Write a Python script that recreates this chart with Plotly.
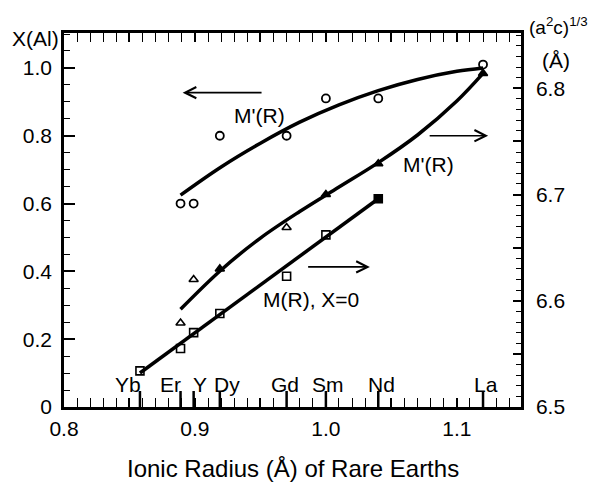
import plotly.graph_objects as go

# ---------------- data ----------------
elements = ["Yb", "Er", "Y", "Dy", "Gd", "Sm", "Nd", "La"]
radius = [0.858, 0.889, 0.899, 0.919, 0.970, 1.000, 1.040, 1.120]

# M'(R): X(Al) (left axis), open circles, elements Er..La
circ_elem = ["Er", "Y", "Dy", "Gd", "Sm", "Nd", "La"]
circ_xal = [0.60, 0.60, 0.80, 0.80, 0.91, 0.91, 1.01]
circ_fit_x = [0.889, 0.920, 0.950, 0.980, 1.010, 1.040, 1.070, 1.100, 1.120]
circ_fit_y = [0.625, 0.708, 0.778, 0.840, 0.891, 0.933, 0.966, 0.990, 1.000]

# M'(R): (a^2 c)^(1/3) (right axis), triangles
tri_elem = ["Er", "Y", "Dy", "Gd", "Sm", "Nd", "La"]
tri_val = [6.579, 6.620, 6.630, 6.669, 6.700, 6.729, 6.814]
tri_filled = [False, False, True, False, True, True, True]
tri_fit_x = [0.889, 0.920, 0.950, 0.980, 1.010, 1.040, 1.070, 1.100, 1.120]
tri_fit_y = [6.592, 6.629, 6.659, 6.684, 6.707, 6.730, 6.756, 6.788, 6.814]

# M(R), X=0: (a^2 c)^(1/3) (right axis), squares
sq_elem = ["Yb", "Er", "Y", "Dy", "Gd", "Sm", "Nd"]
sq_val = [6.534, 6.555, 6.570, 6.588, 6.623, 6.662, 6.696]
sq_filled = [False, False, False, False, False, False, True]
sq_fit_x = [0.858, 1.040]
sq_fit_y = [6.532, 6.696]

x_ticks = [0.80, 0.85, 0.90, 0.95, 1.00, 1.05, 1.10]
x_ticktext = ["0.8", "", "0.9", "", "1.0", "", "1.1"]
yl_ticks = [0, 0.2, 0.4, 0.6, 0.8, 1.0]
yl_ticktext = ["0", "0.2", "0.4", "0.6", "0.8", "1.0"]
yr_ticks = [6.50, 6.55, 6.60, 6.65, 6.70, 6.75, 6.80]
yr_ticktext = ["6.5", "", "6.6", "", "6.7", "", "6.8"]

# ---------------- figure ----------------
FONT = "Liberation Sans, Arial, Helvetica, sans-serif"
rad = dict(zip(elements, radius))

fig = go.Figure()

# fitted curves
fig.add_trace(go.Scatter(x=circ_fit_x, y=circ_fit_y, mode="lines",
                         line=dict(color="black", width=3.5, shape="spline"),
                         yaxis="y", showlegend=False, hoverinfo="skip"))
fig.add_trace(go.Scatter(x=tri_fit_x, y=tri_fit_y, mode="lines",
                         line=dict(color="black", width=3.5, shape="spline"),
                         yaxis="y2", showlegend=False, hoverinfo="skip"))
fig.add_trace(go.Scatter(x=sq_fit_x, y=sq_fit_y, mode="lines",
                         line=dict(color="black", width=3.5),
                         yaxis="y2", showlegend=False, hoverinfo="skip"))

# markers
fig.add_trace(go.Scatter(x=[rad[e] for e in circ_elem], y=circ_xal, mode="markers",
                         marker=dict(symbol="circle-open", size=8, color="black",
                                     line=dict(width=1.8, color="black")),
                         yaxis="y", showlegend=False))
fig.add_trace(go.Scatter(x=[rad[e] for e in tri_elem], y=tri_val, mode="markers",
                         marker=dict(symbol=["triangle-up" if f else "triangle-up-open" for f in tri_filled],
                                     size=8, color="black",
                                     line=dict(width=1.6, color="black")),
                         yaxis="y2", showlegend=False))
fig.add_trace(go.Scatter(x=[rad[e] for e in sq_elem], y=sq_val, mode="markers",
                         marker=dict(symbol=["square" if f else "square-open" for f in sq_filled],
                                     size=8, color="black",
                                     line=dict(width=1.6, color="black")),
                         yaxis="y2", showlegend=False))

# element tall ticks and labels
label_shift = [-12, -10, 6, 7, -2, 2, 3, 3]
shapes = []
annotations = []
for e, r, s in zip(elements, radius, label_shift):
    shapes.append(dict(type="line", xref="x", yref="paper", ysizemode="pixel",
                       yanchor=0, x0=r, x1=r, y0=0, y1=16,
                       line=dict(color="black", width=2.5)))
    annotations.append(dict(x=r, y=0, xref="x", yref="paper", text=e,
                            showarrow=False, xanchor="center", yanchor="middle",
                            xshift=s, yshift=23, font=dict(size=21, family=FONT, color="black")))

txt = dict(size=21, family=FONT, color="black")
# arrows
for (hx, hy, tx, ty) in [(0.8906, 0.927, 0.952, 0.927),
                         (1.1239, 0.800, 1.0781, 0.800),
                         (1.0336, 0.413, 0.9853, 0.413)]:
    annotations.append(dict(x=hx, y=hy, ax=tx, ay=ty, xref="x", yref="y",
                            axref="x", ayref="y", text="", showarrow=True,
                            arrowhead=5, arrowsize=1.3, arrowwidth=1.7,
                            arrowcolor="black"))
# curve labels
annotations.append(dict(x=0.9496, y=0.861, xref="x", yref="y", text="M'(R)",
                        showarrow=False, font=txt))
annotations.append(dict(x=1.0786, y=0.714, xref="x", yref="y", text="M'(R)",
                        showarrow=False, font=txt))
annotations.append(dict(x=0.9885, y=0.316, xref="x", yref="y", text="M(R), X=0",
                        showarrow=False, font=txt))
# axis titles
annotations.append(dict(x=0, y=1, xref="paper", yref="paper", text="X(Al)",
                        showarrow=False, xanchor="center", yanchor="middle",
                        xshift=-29, yshift=-5, font=txt))
annotations.append(dict(x=1, y=1, xref="paper", yref="paper",
                        text="(a<sup>2</sup>c)<sup>1/3</sup>",
                        showarrow=False, xanchor="left", yanchor="middle",
                        xshift=6, yshift=7, font=dict(size=19, family=FONT, color="black")))
annotations.append(dict(x=1, y=1, xref="paper", yref="paper", text="(Å)",
                        showarrow=False, xanchor="center", yanchor="middle",
                        xshift=35, yshift=-27, font=txt))
annotations.append(dict(x=0.5, y=0, xref="paper", yref="paper",
                        text="Ionic Radius (Å) of Rare Earths",
                        showarrow=False, xanchor="center", yanchor="middle",
                        yshift=-61, font=dict(size=24, family=FONT, color="black")))

axis_common = dict(showline=True, linewidth=2.5, linecolor="black", showgrid=False,
                   zeroline=False, ticks="inside", tickcolor="black", tickwidth=1.6,
                   automargin=False,
                   tickfont=dict(size=21, family=FONT, color="black"))

# the page body keeps an 8 px default margin, so the figure is 8 px smaller
# on each axis and its left/top margins are 8 px smaller too
fig.update_layout(
    width=592, height=474,
    margin=dict(l=56, r=79, t=25, b=75),
    paper_bgcolor="white", plot_bgcolor="white",
    font=dict(family=FONT, color="black"),
    showlegend=False,
    xaxis=dict(range=[0.8, 1.149], tickmode="array", tickvals=x_ticks, ticktext=x_ticktext,
               ticklen=9, mirror="allticks", ticklabelstandoff=1,
               minor=dict(tickmode="linear", tick0=0.8, dtick=0.01, ticklen=5,
                          ticks="inside", tickcolor="black", tickwidth=1.4),
               **axis_common),
    yaxis=dict(range=[0, 1.103], tickmode="array", tickvals=yl_ticks, ticktext=yl_ticktext,
               ticklen=11, ticklabelstandoff=5,
               minor=dict(tickmode="linear", tick0=0, dtick=0.05, ticklen=6,
                          ticks="inside", tickcolor="black", tickwidth=1.4),
               **axis_common),
    yaxis2=dict(range=[6.5, 6.852], overlaying="y", side="right", anchor="x",
                tickmode="array", tickvals=yr_ticks, ticktext=yr_ticktext,
                ticklen=8, ticklabelstandoff=8,
                minor=dict(tickmode="linear", tick0=6.5, dtick=0.01, ticklen=5,
                           ticks="inside", tickcolor="black", tickwidth=1.4),
                **axis_common),
    shapes=shapes,
    annotations=annotations,
)

fig.write_html("out.html")
